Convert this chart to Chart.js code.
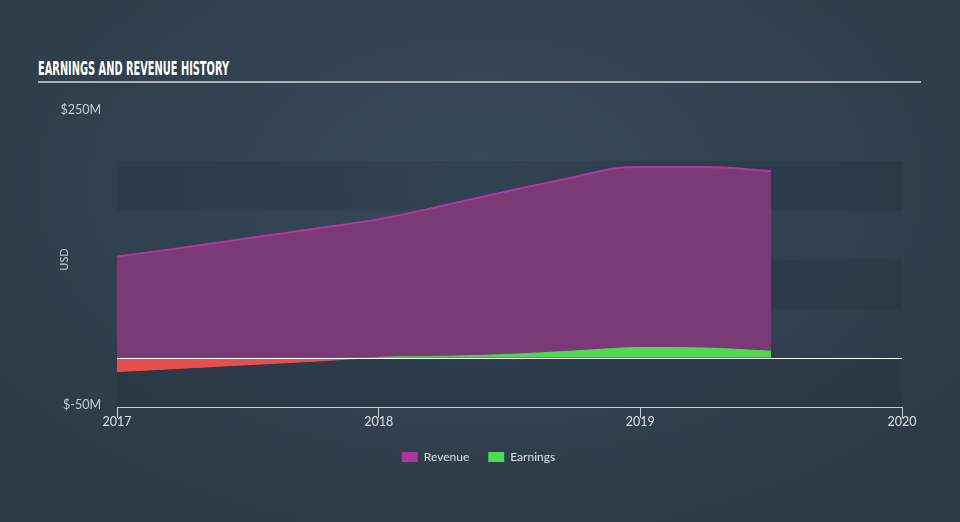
<!DOCTYPE html>
<html>
<head>
<meta charset="utf-8">
<script src="https://cdn.jsdelivr.net/npm/chart.js@4/dist/chart.umd.min.js"></script>
<style>
  html, body { margin: 0; padding: 0; }
  body {
    width: 960px; height: 522px; overflow: hidden; position: relative;
    background: radial-gradient(ellipse 70% 80% at 50% 35%, #37495a 0%, #313f4e 60%, #2c3845 100%);
  }
  #title {
    position: absolute; left: 38px; top: 56px;
    font-family: "Liberation Sans Narrow", "DejaVu Sans Condensed", sans-serif;
    font-weight: bold; font-size: 20px; color: #ffffff;
    transform-origin: 0 0; white-space: nowrap;
  }
  #rule { position: absolute; left: 38px; top: 81px; width: 883px; height: 2px; background: #a9b0b8; }
  #c { position: absolute; left: 0; top: 0; }
</style>
</head>
<body>
<div id="title">EARNINGS AND REVENUE HISTORY</div>
<div id="rule"></div>
<canvas id="c" width="960" height="522"></canvas>
<script>
// data (USD millions)
var dates = [2017.0, 2017.25, 2017.5, 2017.75, 2018.0, 2018.25, 2018.5, 2018.75, 2018.9, 2019.0, 2019.25, 2019.5];
var revenue = [103, 112, 121.5, 131, 141, 155, 170, 184, 192.5, 194, 194, 190];
var earnings = [-14, -10.5, -7, -3.5, 0.5, 1.5, 3.5, 7, 9.5, 10.5, 10, 6.7];
var yearTicks = [2017, 2018, 2019, 2020];
var yTicks = [-50, 250];
var darkBands = [[-50, 0], [50, 100], [150, 200]]; // shaded horizontal bands

// fit the condensed title to its width in the picture
var t = document.getElementById('title');
t.style.transform = 'scaleX(' + (191 / t.getBoundingClientRect().width) + ')';

var toPoints = (vals) => dates.map((d, i) => ({x: d, y: vals[i]}));

// bands behind the areas, zero line on top
var bandsPlugin = {
  id: 'bands',
  beforeDatasetsDraw(chart) {
    const {ctx, chartArea, scales} = chart;
    ctx.save();
    ctx.fillStyle = 'rgba(20,30,42,0.16)';
    darkBands.forEach(b => {
      const y1 = scales.y.getPixelForValue(b[1]);
      const y0 = scales.y.getPixelForValue(b[0]);
      ctx.fillRect(chartArea.left, y1, chartArea.right - chartArea.left, y0 - y1);
    });
    ctx.restore();
  },
  afterDatasetsDraw(chart) {
    const {ctx, chartArea, scales} = chart;
    const y = Math.round(scales.y.getPixelForValue(0)) + 0.5;
    ctx.save();
    ctx.strokeStyle = '#ffffff';
    ctx.lineWidth = 1.2;
    ctx.beginPath();
    ctx.moveTo(chartArea.left, y);
    ctx.lineTo(chartArea.right, y);
    ctx.stroke();
    ctx.restore();
  }
};

var font = {family: 'Lato, "Open Sans", sans-serif', size: 12.5};

var chart = new Chart(document.getElementById('c').getContext('2d'), {
  type: 'line',
  data: {
    datasets: [
      {
        label: 'Earnings',
        data: toPoints(earnings),
        borderColor: '#52d957',
        borderWidth: 1,
        backgroundColor: '#4cdb52',
        segment: {
          borderColor: c => (c.p0.parsed.y < 0 ? '#e84e4c' : '#52d957')
        },
        fill: {target: 'origin', above: '#50d754', below: '#e84e4c'},
        pointRadius: 0,
        cubicInterpolationMode: 'monotone'
      },
      {
        label: 'Revenue',
        data: toPoints(revenue),
        borderColor: '#ad3aa0',
        borderWidth: 2,
        backgroundColor: '#a93a9a',
        fill: {target: 'origin', above: '#7a3a76'},
        pointRadius: 0,
        cubicInterpolationMode: 'monotone'
      }
    ]
  },
  options: {
    responsive: false,
    animation: false,
    devicePixelRatio: 1,
    layout: {padding: {left: 55, right: 58, top: 112, bottom: 49}},
    plugins: {
      legend: {
        position: 'bottom',
        reverse: true,
        labels: {
          color: '#dde1e5',
          font: {family: font.family, size: 12},
          boxWidth: 16,
          boxHeight: 10,
          padding: 19,
          generateLabels(chart) {
            return chart.data.datasets.map((ds, i) => ({
              text: ds.label,
              fillStyle: ds.backgroundColor,
              strokeStyle: ds.backgroundColor,
              lineWidth: 0,
              fontColor: '#dde1e5',
              datasetIndex: i
            }));
          }
        }
      },
      tooltip: {enabled: false}
    },
    scales: {
      x: {
        type: 'linear',
        min: 2017,
        max: 2020,
        afterBuildTicks: s => { s.ticks = yearTicks.map(v => ({value: v})); },
        afterFit: s => { s.height = 25; },
        ticks: {
          color: '#dde1e5',
          font: font,
          padding: -4,
          maxRotation: 0,
          callback: v => String(v)
        },
        grid: {drawOnChartArea: false, color: '#c9ced4', tickLength: 11},
        border: {display: true, color: '#c9ced4', width: 1}
      },
      y: {
        min: -50,
        max: 250,
        afterBuildTicks: s => { s.ticks = yTicks.map(v => ({value: v})); },
        afterFit: s => { s.width = 62; },
        ticks: {
          color: '#c9ced4',
          font: font,
          padding: 8,
          labelOffset: -2,
          callback: v => '$' + v + 'M'
        },
        grid: {display: false},
        border: {display: false},
        title: {
          display: true,
          text: 'USD',
          color: '#c9ced4',
          font: {family: font.family, size: 11},
          padding: {top: 3, bottom: 0}
        }
      }
    }
  },
  plugins: [bandsPlugin]
});
</script>
</body>
</html>
